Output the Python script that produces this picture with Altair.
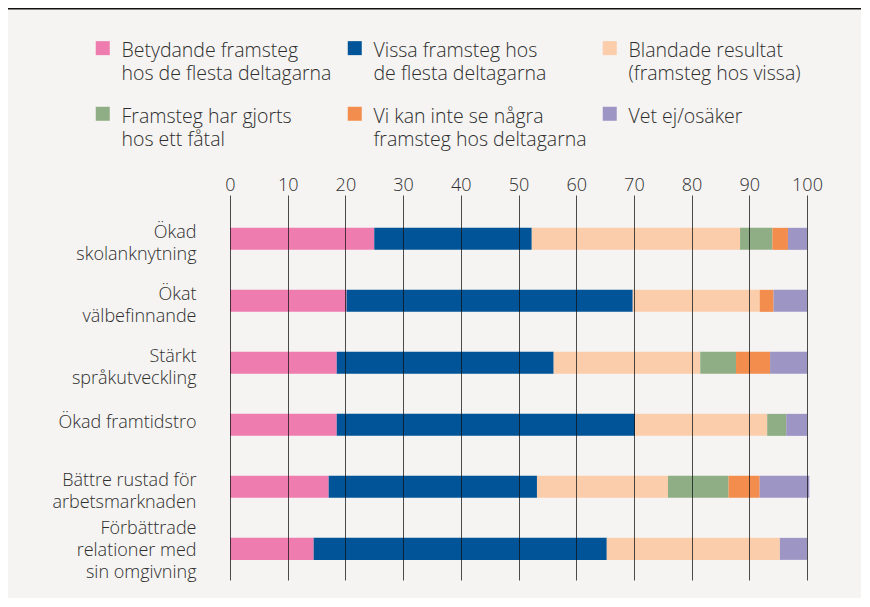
import altair as alt
import pandas as pd

categories = [
    "Ökad\nskolanknytning",
    "Ökat\nvälbefinnande",
    "Stärkt\nspråkutveckling",
    "Ökad framtidstro",
    "Bättre rustad för\narbetsmarknaden",
    "Förbättrade\nrelationer med\nsin omgivning",
]
series = [
    "Betydande framsteg\nhos de flesta deltagarna",
    "Vissa framsteg hos\nde flesta deltagarna",
    "Blandade resultat\n(framsteg hos vissa)",
    "Framsteg har gjorts\nhos ett fåtal",
    "Vi kan inte se några\nframsteg hos deltagarna",
    "Vet ej/osäker",
]
colors = ["#ee7cae", "#005497", "#fbcdab", "#90ae85", "#f28d4d", "#9d96c5"]

betydande = [25.0, 20.2, 18.5, 18.5, 17.1, 14.5]
vissa = [27.3, 49.6, 37.6, 51.7, 36.1, 50.8]
blandade = [36.1, 22.0, 25.4, 22.9, 22.7, 30.0]
fatal = [5.6, 0.0, 6.2, 3.3, 10.5, 0.0]
inga = [2.7, 2.4, 5.9, 0.0, 5.4, 0.0]
vet_ej = [3.3, 5.8, 6.4, 3.6, 8.6, 4.7]

all_values = [betydande, vissa, blandade, fatal, inga, vet_ej]
rows = []
for si, (s, vals) in enumerate(zip(series, all_values)):
    for c, v in zip(categories, vals):
        rows.append({"kategori": c, "serie": s, "varde": v, "ordning": si})
df = pd.DataFrame(rows)

FONT = "Open Sans"
TXT = "#2e2e2e"

# square legend symbol, nudged down so it sits level with the first label line
SQUARE = "M-1,-0.14L1,-0.14L1,1.86L-1,1.86Z"

bars = alt.Chart(df).mark_bar().encode(
    x=alt.X(
        "varde:Q",
        stack="zero",
        scale=alt.Scale(domain=[0, 100], nice=False),
        axis=alt.Axis(
            orient="top", values=list(range(0, 101, 10)), title=None,
            domain=False, ticks=False, labelPadding=1, labelFontSize=18,
            labelColor=TXT, labelFont=FONT, labelFontWeight=300,
            grid=True, gridColor="#111111",
            gridOpacity=0.75, gridWidth=1, zindex=1, labelFlush=False,
        ),
    ),
    y=alt.Y(
        "kategori:N",
        sort=categories,
        scale=alt.Scale(paddingInner=0.645, paddingOuter=0.427, align=0.62),
        axis=alt.Axis(
            title=None, domain=False, ticks=False, labelPadding=34,
            labelFontSize=18, labelColor=TXT, labelFont=FONT,
            labelFontWeight=300,
            labelExpr="split(datum.label, '\\n')", labelLineHeight=22,
            labelOffset=alt.ExprRef(
                "[0, -2, -6, -20][length(split(datum.value, '\\n'))]"
            ),
            labelLimit=300,
        ),
    ),
    color=alt.Color(
        "serie:N",
        sort=series,
        scale=alt.Scale(domain=series, range=colors),
        legend=alt.Legend(
            title=None, orient="none", legendX=-137, legendY=-163,
            columns=3, direction="horizontal", symbolType=SQUARE,
            symbolSize=196, symbolStrokeWidth=0, labelFontSize=19.5,
            labelFont=FONT, labelFontWeight=300, labelColor=TXT,
            labelOffset=9,
            labelExpr="split(datum.label, '\\n')",
            labelBaseline="top", columnPadding=13, rowPadding=14,
            labelLimit=300,
        ),
    ),
    order=alt.Order("ordning:Q"),
)

topline = alt.Chart(pd.DataFrame({"a": [0]})).mark_rule(
    color="#111111", strokeWidth=2
).encode(x=alt.value(-222), x2=alt.value(660), y=alt.value(-186.5))

chart = alt.layer(bars, topline).properties(
    width=577, height=385,
    autosize=alt.AutoSizeParams(type="none"),
    padding={"left": 222, "top": 187, "right": 54, "bottom": 18},
    background="#f5f4f2",
).configure(
    style={"guide-label": {"lineHeight": 23}}
).configure_view(stroke=None)

chart.save("out.html", embed_options={"renderer": "svg", "actions": False})
